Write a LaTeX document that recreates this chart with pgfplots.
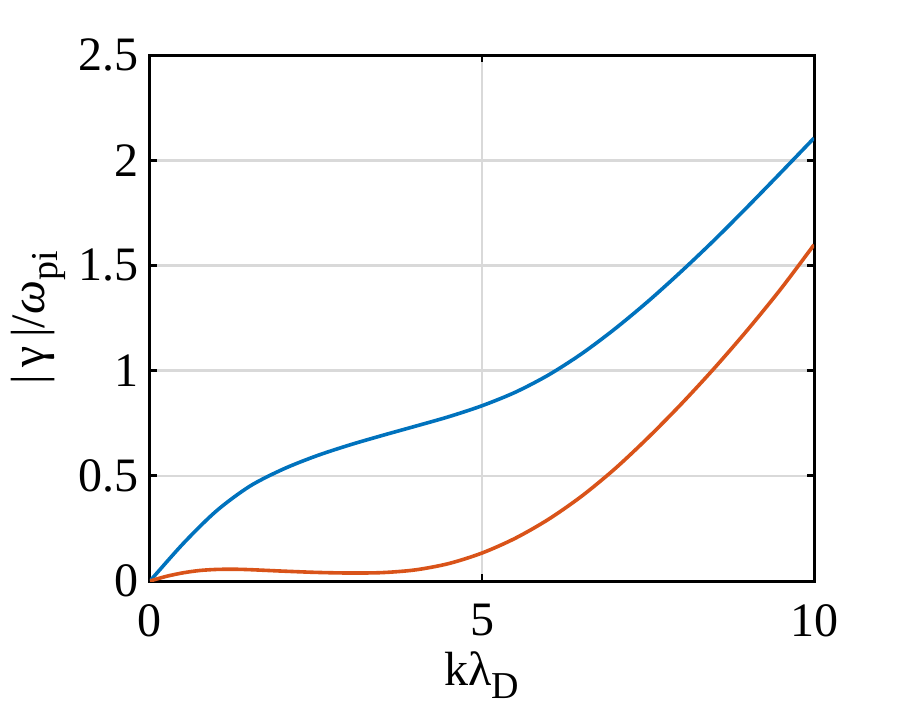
\documentclass[border=0pt]{standalone}
\usepackage{pgfplots}
\pgfplotsset{compat=1.18}
\usepackage{fontspec}
\setmainfont{Liberation Serif}
\definecolor{mblue}{rgb}{0,0.447,0.741}
\definecolor{mred}{rgb}{0.85,0.325,0.098}
\begin{document}
\begin{tikzpicture}
\path[use as bounding box] (-75pt,-69.5pt) rectangle (375pt,290.5pt);
\begin{axis}[
  at={(0,0)}, anchor=south west,
  scale only axis, width=332pt, height=263pt,
  xmin=0, xmax=10, ymin=0, ymax=2.5,
  xtick={0,5,10}, ytick={0,0.5,1,1.5,2,2.5},
  yticklabels={0,0.5,1,1.5,2,2.5},
  xticklabels={0,5,10},
  tick align=inside, major tick length=3.5pt,
  tick style={black, line width=1.4pt},
  axis line style={black, line width=1.5pt},
  grid=major, major grid style={line width=1.3pt, color=black!15},
  tick label style={font=\fontsize{24}{24}\selectfont},
  /pgf/number format/assume math mode=true,
  xticklabel style={yshift=-8pt},
  yticklabel style={xshift=-2pt},
  label style={font=\fontsize{24}{24}\selectfont},
  xlabel={kλ\raisebox{-0.55ex}{\fontsize{19}{19}\selectfont D}},
  ylabel={|\,γ\,|/\textit{ω}\raisebox{-0.55ex}{\fontsize{19}{19}\selectfont pi}},
  xlabel style={yshift=-1pt},
  ylabel style={yshift=0pt},
  clip=true,
]
\addplot[mblue, line width=1.8pt, smooth] coordinates {
(0,0) (0.5,0.178) (1.0,0.333) (1.5,0.450) (2.0,0.531) (2.5,0.594) (3.0,0.646)
(3.5,0.692) (4.0,0.736) (4.5,0.781) (5.0,0.833) (5.5,0.897) (6.0,0.979) (6.5,1.080)
(7.0,1.198) (7.5,1.329) (8.0,1.471) (8.5,1.621) (9.0,1.779) (9.5,1.941) (10,2.105)
};
\addplot[mred, line width=1.8pt, smooth] coordinates {
(0,0) (0.25,0.0225) (0.5,0.039) (0.75,0.050) (1.0,0.055) (1.25,0.056) (1.5,0.054)
(2.0,0.047) (2.5,0.041) (3.0,0.038) (3.5,0.040) (4.0,0.053) (4.5,0.083) (5.0,0.133)
(5.5,0.203) (6.0,0.293) (6.5,0.403) (7.0,0.533) (7.5,0.681) (8.0,0.841) (8.5,1.012)
(9.0,1.194) (9.5,1.388) (10,1.598)
};
\end{axis}
\end{tikzpicture}
\end{document}
